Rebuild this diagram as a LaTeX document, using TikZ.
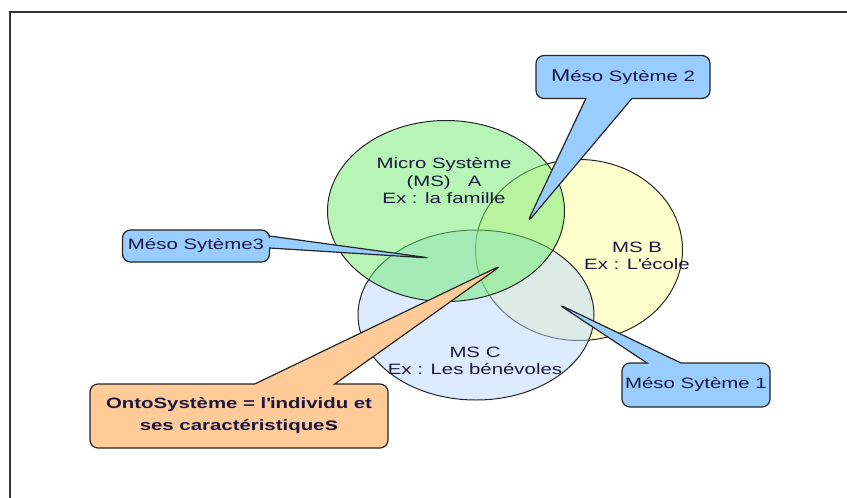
\documentclass[tikz,border=0pt]{standalone}
\usepackage{fontspec}
\setmainfont[FakeStretch=1.36]{Liberation Sans}
\usetikzlibrary{shapes.geometric,shapes.callouts,positioning}
\definecolor{fillA}{RGB}{111,235,111}
\definecolor{fillB}{RGB}{255,255,155}
\definecolor{fillC}{RGB}{185,215,255}
\definecolor{callblue}{RGB}{153,204,255}
\definecolor{callorange}{RGB}{255,204,153}
\definecolor{ink}{RGB}{28,24,64}
\tikzset{
    ms/.style={ % the three systems
        ellipse,
        draw=black!85,
        line width=1pt,
        fill opacity=0.5,
        inner sep=0pt
        },
    mstxt/.style={ % text inside a system
        text=ink,
        align=center,
        font=\fontsize{15}{17.5}\selectfont,
        inner sep=0pt
        },
    meso/.style={ % blue callout
        rectangle callout,
        rounded corners=8pt,
        draw=black!85,
        line width=1.2pt,
        fill=callblue,
        text=ink,
        font=\fontsize{15}{17.5}\selectfont,
        inner sep=0pt
        },
    onto/.style={ % orange callout
        meso,
        fill=callorange,
        align=center,
        font=\bfseries\fontsize{15}{22}\selectfont
        }
}

\begin{document}
\begin{tikzpicture}[x=1pt, y=-1pt]
\useasboundingbox (0,0) rectangle (847,498);

%%%%% frame
\draw[line width=2pt, black!80] (10,498) -- (10,12) -- (847,12);

%%%%% systems (B first, then C, then A on top)
\node[ms, fill=fillB, minimum width=207pt, minimum height=181pt] (msb) at (579,250) {};
\node[ms, fill=fillC, minimum width=236pt, minimum height=170pt] (msc) at (476,315) {};
\node[ms, fill=fillA, minimum width=237pt, minimum height=181pt] (msa) at (446,211) {};

%%%%% labels of the systems
\node[mstxt] (la) at (444,181) {Micro Système\\(MS)\ \ \ A\\Ex : la famille};
\node[mstxt] (lb) at (637,256) {MS B\\Ex : L\textquotesingle école};
\node[mstxt] (lc) at (475,361) {MS C\\Ex : Les bénévoles};

%%%%% pointer tips
\coordinate (t1) at (558,304);
\coordinate (t2) at (527,223);
\coordinate (t3) at (430,258);
\coordinate (t0) at (502,265);

%%%%% callouts
\node[meso, minimum width=174pt, minimum height=43pt,
      callout absolute pointer=(t2), callout pointer width=46pt]
      (meso2) at (623,77) {{\fontsize{17}{17}\selectfont M}éso Sytème 2};
\node[meso, minimum width=147pt, minimum height=32pt,
      callout absolute pointer=(t3), callout pointer width=12pt]
      (meso3) at (196,246) {Méso Sytème3};
\node[meso, minimum width=148pt, minimum height=44pt,
      callout absolute pointer=(t1), callout pointer width=34pt]
      (meso1) at (696,385) {Méso Sytème 1};
\node[onto, minimum width=298pt, minimum height=64pt,
      callout absolute pointer=(t0), callout pointer width=80pt]
      (ontos) at (239,416) {OntoSystème = l\textquotesingle individu et\\ses caractéristique{\fontsize{18}{18}\selectfont s}};

\end{tikzpicture}
\end{document}
